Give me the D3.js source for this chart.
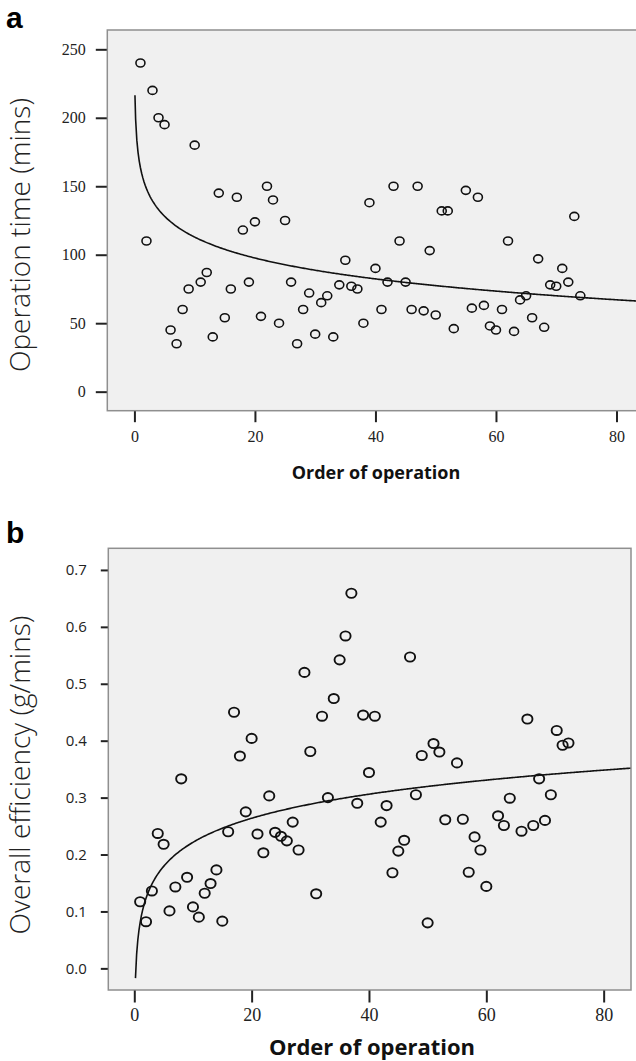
<!DOCTYPE html>
<html>
<head>
<meta charset="utf-8">
<script src="https://cdn.jsdelivr.net/npm/d3@7/dist/d3.min.js"></script>
<style>
  html, body { margin: 0; padding: 0; background: #ffffff; }
  svg { display: block; }
</style>
</head>
<body>
<svg id="chart" width="636" height="1061"></svg>
<script>
// ---------- Data ----------
const orderA = [1,2,3,4,5,6,7,8,9,10,11,12,13,14,15,16,17,18,19,20,21,22,23,24,25,26,27,28,29,30,31,32,33,34,35,36,37,38,39,40,41,42,43,44,45,46,47,48,49,50,51,52,53,55,56,57,58,59,60,61,62,63,64,65,66,67,68,69,70,71,72,73,74];
const timeA = [240,110,220,200,195,45,35,60,75,180,80,87,40,145,54,75,142,118,80,124,55,150,140,50,125,80,35,60,72,42,65,70,40,78,96,77,75,50,138,90,60,80,150,110,80,60,150,59,103,56,132,132,46,147,61,142,63,48,45,60,110,44,67,70,54,97,47,78,77,90,80,128,70];

const orderB = [1,2,3,4,5,6,7,8,9,10,11,12,13,14,15,16,17,18,19,20,21,22,23,24,25,26,27,28,29,30,31,32,33,34,35,36,37,38,39,40,41,42,43,44,45,46,47,48,49,50,51,52,53,55,56,57,58,59,60,62,63,64,66,67,68,69,70,71,72,73,74];
const effB = [0.117,0.082,0.136,0.237,0.218,0.101,0.143,0.333,0.160,0.108,0.090,0.132,0.149,0.173,0.083,0.240,0.450,0.373,0.275,0.404,0.236,0.203,0.303,0.239,0.232,0.224,0.257,0.208,0.520,0.381,0.131,0.443,0.300,0.474,0.542,0.584,0.659,0.290,0.445,0.344,0.443,0.257,0.286,0.168,0.206,0.225,0.547,0.305,0.374,0.080,0.395,0.380,0.261,0.361,0.262,0.169,0.231,0.208,0.144,0.268,0.251,0.299,0.241,0.438,0.251,0.333,0.260,0.305,0.418,0.392,0.396];

// Logarithmic fit lines y = a + b*ln(x), coefficients
const fitA = { a: 163.5, b: -22.0, from: 0.09 };
const fitB = { a: 0.081, b: 0.061, from: 0.2 };

const xTicks = [0, 20, 40, 60, 80];
const yTicksA = [0, 50, 100, 150, 200, 250];
const yTicksB = [0.0, 0.1, 0.2, 0.3, 0.4, 0.5, 0.6, 0.7];

const xTitle = "Order of operation";
const yTitleA = "Operation time (mins)";
const yTitleB = "Overall efficiency (g/mins)";

// ---------- Drawing ----------
const svg = d3.select("#chart");

function drawPanel(cfg) {
  const g = svg.append("g");
  const x = d3.scaleLinear().domain(cfg.xDomain).range([cfg.left, cfg.right]);
  const y = d3.scaleLinear().domain(cfg.yDomain).range([cfg.bottom, cfg.top]);

  const clipId = "clip-" + cfg.id;
  svg.append("defs").append("clipPath").attr("id", clipId)
    .append("rect").attr("x", cfg.left).attr("y", cfg.top)
    .attr("width", cfg.right - cfg.left).attr("height", cfg.bottom - cfg.top);

  // plot background
  g.append("rect")
    .attr("x", cfg.left).attr("y", cfg.top)
    .attr("width", cfg.right - cfg.left).attr("height", cfg.bottom - cfg.top)
    .attr("fill", "#f0f0f0");

  // fit curve
  const xs = [cfg.fit.from].concat(d3.range(0.2, cfg.xDomain[1] + 0.5, 0.2).filter(v => v > cfg.fit.from));
  const line = d3.line()
    .x(v => x(v))
    .y(v => y(cfg.fit.a + cfg.fit.b * Math.log(v)))
    .curve(d3.curveLinear);
  g.append("path")
    .attr("clip-path", `url(#${clipId})`)
    .attr("d", line(xs))
    .attr("fill", "none")
    .attr("stroke", "#111")
    .attr("stroke-width", 1.6);

  // points
  g.append("g").attr("clip-path", `url(#${clipId})`)
    .selectAll("ellipse")
    .data(cfg.xs.map((v, i) => [v, cfg.ys[i]]))
    .join("ellipse")
    .attr("cx", d => x(d[0]))
    .attr("cy", d => y(d[1]))
    .attr("rx", cfg.r + 0.3)
    .attr("ry", cfg.r - 0.2)
    .attr("fill", "none")
    .attr("stroke", "#111")
    .attr("stroke-width", cfg.sw);

  // frame
  g.append("rect")
    .attr("x", cfg.left).attr("y", cfg.top)
    .attr("width", cfg.right - cfg.left).attr("height", cfg.bottom - cfg.top)
    .attr("fill", "none")
    .attr("stroke", "#8f8f8f")
    .attr("stroke-width", 1.5);

  // x axis (ticks outside frame)
  const xAxis = d3.axisBottom(x).tickValues(xTicks).tickSize(cfg.xTickLen).tickSizeOuter(0)
    .tickPadding(cfg.xTickPad).tickFormat(d3.format("d"));
  const xa = g.append("g").attr("transform", `translate(0,${cfg.bottom + 0.5})`).call(xAxis);
  xa.select(".domain").remove();
  xa.selectAll(".tick line").attr("stroke", "#222").attr("stroke-width", 2);
  xa.selectAll(".tick text")
    .attr("fill", "#222")
    .style("font-family", cfg.xTickFont)
    .style("font-size", cfg.xTickSize + "px");

  // y axis
  const yAxis = d3.axisLeft(y).tickValues(cfg.yTicks).tickSize(cfg.yTickLen).tickSizeOuter(0)
    .tickPadding(cfg.yTickPad).tickFormat(cfg.yFormat);
  const ya = g.append("g").attr("transform", `translate(${cfg.left - 0.5},0)`).call(yAxis);
  ya.select(".domain").remove();
  ya.selectAll(".tick line").attr("stroke", "#222").attr("stroke-width", 2);
  ya.selectAll(".tick text")
    .attr("fill", "#222")
    .style("font-family", cfg.yTickFont)
    .style("font-size", cfg.yTickSize + "px");

  // x title
  g.append("text")
    .attr("x", cfg.xTitleX).attr("y", cfg.xTitleY)
    .attr("text-anchor", "middle")
    .attr("fill", "#111")
    .style("font-family", "'Open Sans', 'Noto Sans', sans-serif")
    .style("font-weight", "bold")
    .style("font-size", cfg.xTitleSize + "px")
    .text(xTitle);

  // y title
  g.append("text")
    .attr("transform", `translate(${cfg.yTitleX},${cfg.yTitleY}) rotate(-90)`)
    .attr("text-anchor", "middle")
    .attr("fill", "#222")
    .style("font-family", "'Open Sans', 'Noto Sans', sans-serif")
    .style("font-weight", 300)
    .style("font-size", "28px")
    .text(cfg.yTitle);

  // panel letter
  g.append("text")
    .attr("x", cfg.labelX).attr("y", cfg.labelY)
    .attr("fill", "#000")
    .style("font-family", "'Liberation Sans', Arial, sans-serif")
    .style("font-weight", "bold")
    .style("font-size", "30px")
    .text(cfg.label);
}

drawPanel({
  id: "a", label: "a", labelX: 6, labelY: 28,
  xs: orderA, ys: timeA, fit: fitA,
  left: 107.3, right: 643.6, top: 30, bottom: 410.7,
  xDomain: [-4.5, 84.5], yDomain: [-13.9, 264.1],
  yTicks: yTicksA, yFormat: d3.format("d"),
  r: 4.2, sw: 1.6,
  xTickLen: 11, xTickPad: 8, xTickFont: "'Liberation Serif', serif", xTickSize: 16,
  yTickLen: 11, yTickPad: 10, yTickFont: "'Liberation Serif', serif", yTickSize: 16,
  xTitleX: 376, xTitleY: 479, xTitleSize: 18,
  yTitle: yTitleA, yTitleX: 30, yTitleY: 235
});

drawPanel({
  id: "b", label: "b", labelX: 6, labelY: 543,
  xs: orderB, ys: effB, fit: fitB,
  left: 108.3, right: 631, top: 548.3, bottom: 990,
  xDomain: [-4.43, 84.66], yDomain: [-0.038, 0.738],
  yTicks: yTicksB, yFormat: d3.format(".1f"),
  r: 4.8, sw: 1.9,
  xTickLen: 12, xTickPad: 6, xTickFont: "'Liberation Serif', serif", xTickSize: 18,
  yTickLen: 7, yTickPad: 14, yTickFont: "'Open Sans', sans-serif", yTickSize: 15,
  xTitleX: 372, xTitleY: 1055, xTitleSize: 22,
  yTitle: yTitleB, yTitleX: 30, yTitleY: 775
});
</script>
</body>
</html>
